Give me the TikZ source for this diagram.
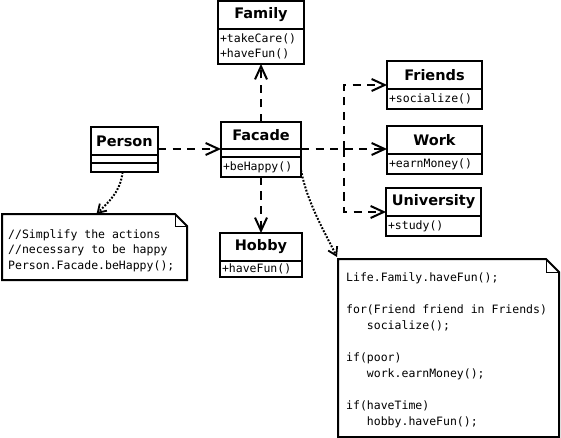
\documentclass[tikz,border=0pt]{standalone}
\usepackage{fontspec}
\setmainfont{DejaVu Sans}
\setmonofont{DejaVu Sans Mono}
\usetikzlibrary{arrows.meta,calc}
\begin{document}
\begin{tikzpicture}[x=1pt,y=-1pt,
  box/.style={draw,line width=2pt,anchor=north west,inner sep=0pt,outer sep=0pt},
  head/.style={box,font=\bfseries\fontsize{14.5}{16}\selectfont},
  meth/.style={box,font=\ttfamily\fontsize{11.5}{15}\selectfont,align=left,inner xsep=2pt},
  notebox/.style={anchor=north west,inner sep=0pt,outer sep=0pt},
  notetext/.style={anchor=north west,inner sep=0pt,align=left,font=\ttfamily\fontsize{11.5}{15.5}\selectfont},
  dep/.style={line width=2pt,dash pattern=on 8pt off 6.5pt,-{Straight Barb[length=13pt,width=12pt,line width=2pt]}},
  noteln/.style={line width=2pt,dash pattern=on 1.8pt off 1.6pt,-{Straight Barb[length=8pt,width=10pt,line width=1.8pt]}}
]
\useasboundingbox (0,0) rectangle (561,438);

% Family
\node[head,minimum width=86pt,minimum height=28pt] (familyh) at (218,1) {Family};
\node[meth,minimum width=86pt,minimum height=35pt,text width=82pt] (familym) at (218,29) {+takeCare()\\+haveFun()};

% Person
\node[head,minimum width=67pt,minimum height=28pt] (personh) at (91,127) {Person};
\node[box,minimum width=67pt,minimum height=8pt] (persona) at (91,155) {};
\node[box,minimum width=67pt,minimum height=9pt] (personb) at (91,163) {};

% Facade
\node[head,minimum width=80pt,minimum height=27pt] (facadeh) at (221,122) {Facade};
\node[box,minimum width=80pt,minimum height=8pt] (facadea) at (221,149) {};
\node[meth,minimum width=80pt,minimum height=20pt,text width=76pt] (facadem) at (221,157) {+beHappy()};

% Friends
\node[head,minimum width=95pt,minimum height=28pt] (friendsh) at (387,61) {Friends};
\node[meth,minimum width=95pt,minimum height=20pt,text width=91pt] (friendsm) at (387,89) {+socialize()};

% Work
\node[head,minimum width=95pt,minimum height=28pt] (workh) at (387,126) {Work};
\node[meth,minimum width=95pt,minimum height=20pt,text width=91pt] (workm) at (387,154) {+earnMoney()};

% University
\node[head,minimum width=95pt,minimum height=28pt] (univh) at (386,188) {University};
\node[meth,minimum width=95pt,minimum height=20pt,text width=91pt] (univm) at (386,216) {+study()};

% Hobby
\node[head,minimum width=82pt,minimum height=28pt] (hobbyh) at (220,233) {Hobby};
\node[meth,minimum width=82pt,minimum height=16pt,text width=78pt] (hobbym) at (220,261) {+haveFun()};

% Note 1
\node[notebox,minimum width=185pt,minimum height=66pt] (note1) at (2,214) {};
\draw[line width=2pt,line join=miter] (note1.north west) -- ([xshift=-12pt]note1.north east) -- ([yshift=-12pt]note1.north east) -- (note1.south east) -- (note1.south west) -- cycle;
\draw[line width=1pt] ([xshift=-12pt]note1.north east) -- ([xshift=-12pt,yshift=-12pt]note1.north east) -- ([yshift=-12pt]note1.north east);
\node[notetext] (note1t) at (8,229) {//Simplify the actions\\//necessary to be happy\\Person.Facade.beHappy();};

% Note 2
\node[notebox,minimum width=221pt,minimum height=178pt] (note2) at (338,259) {};
\draw[line width=2pt,line join=miter] (note2.north west) -- ([xshift=-13pt]note2.north east) -- ([yshift=-13pt]note2.north east) -- (note2.south east) -- (note2.south west) -- cycle;
\draw[line width=1pt] ([xshift=-13pt]note2.north east) -- ([xshift=-13pt,yshift=-13pt]note2.north east) -- ([yshift=-13pt]note2.north east);
\node[notetext,font=\ttfamily\fontsize{11.5}{16}\selectfont] (note2t) at (346,272) {Life.Family.haveFun();\\ \\for(Friend friend in Friends)\\\phantom{mmm}socialize();\\ \\if(poor)\\\phantom{mmm}work.earnMoney();\\ \\if(haveTime)\\\phantom{mmm}hobby.haveFun();};

% Dependencies
\draw[dep] (personh.east |- facadeh.south) -- (facadeh.south west);
\draw[dep] (facadeh.north) -- (facadeh.north |- familym.south);
\draw[dep] (facadem.south) -- (hobbyh.north);
\draw[dep] (facadeh.south east) -- (workh.west |- facadeh.south);
\coordinate (bx) at ($(facadeh.south east)!0.5!(workh.west |- facadeh.south)$);
\draw[dep] (bx) |- ([yshift=4pt]friendsh.south west);
\draw[dep] (bx) |- ([yshift=4pt]univh.south west);

% Note links
\draw[noteln] ([xshift=-2pt]personb.south) .. controls ($(personb.south)+(-4,20)$) and ($(note1.north)+(14,-12)$) .. ([xshift=2pt]note1.north);
\draw[noteln] ([yshift=7pt]facadem.south east) .. controls ($(facadem.south east)+(6,25)$) and ($(note2.north west)+(-14,-28)$) .. ([xshift=-1pt,yshift=2pt]note2.north west);
\end{tikzpicture}
\end{document}
